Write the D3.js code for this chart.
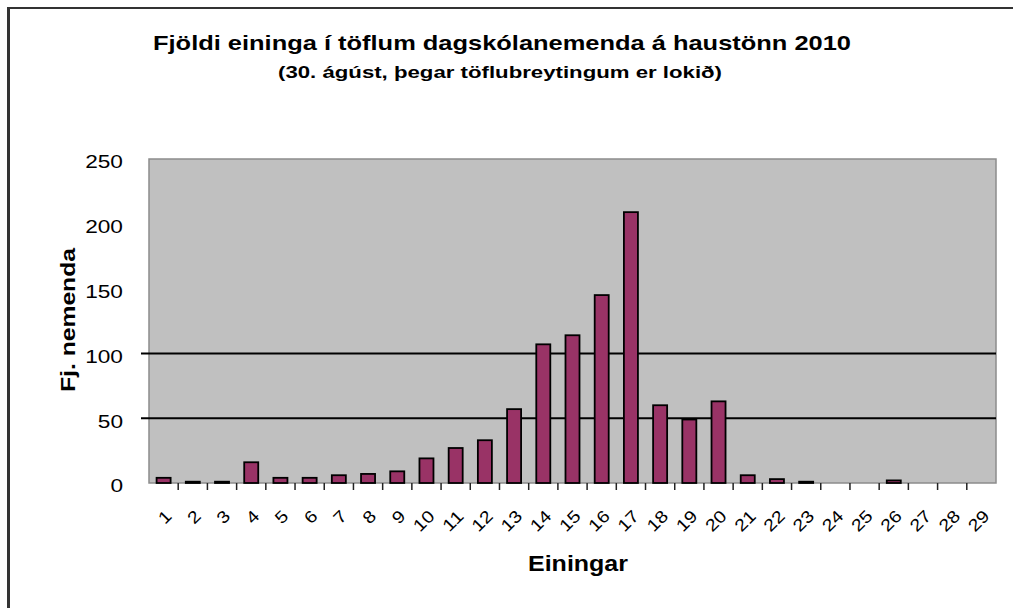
<!DOCTYPE html>
<html>
<head>
<meta charset="utf-8">
<script src="https://cdn.jsdelivr.net/npm/d3@7"></script>
<style>
  body { margin: 0; background: #ffffff; }
  text { font-family: 'Liberation Sans', Arial, sans-serif; fill: #000; }
</style>
</head>
<body>
<div id="chart"></div>
<script>
// fjöldi eininga -> fjöldi nemenda
let categories = ['1', '2', '3', '4', '5', '6', '7', '8', '9', '10', '11', '12', '13', '14', '15',
  '16', '17', '18', '19', '20', '21', '22', '23', '24', '25', '26', '27', '28', '29']
let students = [4, 1, 1, 16, 4, 4, 6, 7, 9, 19, 27, 33, 57, 107, 114,
  145, 209, 60, 49, 63, 6, 3, 1, 0, 0, 2, 0, 0, 0]
let yTicks = [0, 50, 100, 150, 200, 250]
let gridValues = [50, 100]

let width = 1013
let height = 608
let plot = { left: 149, right: 996, top: 159, bottom: 483 }

let svg = d3
  .select('#chart')
  .append('svg')
  .attr('width', width)
  .attr('height', height)

// outer frame (only left and top edges are inside the picture)
svg.append('line')
  .attr('x1', 8.5).attr('y1', 7.5).attr('x2', 8.5).attr('y2', height)
  .attr('stroke', '#333').attr('stroke-width', 3)
svg.append('line')
  .attr('x1', 7).attr('y1', 8).attr('x2', width).attr('y2', 8)
  .attr('stroke', '#333').attr('stroke-width', 2)

// titles
svg.append('text')
  .attr('x', 502).attr('y', 50)
  .attr('text-anchor', 'middle')
  .attr('font-size', 21)
  .attr('font-weight', 'bold')
  .attr('textLength', 698)
  .attr('lengthAdjust', 'spacingAndGlyphs')
  .text('Fjöldi eininga í töflum dagskólanemenda á haustönn 2010')

svg.append('text')
  .attr('x', 500).attr('y', 78)
  .attr('text-anchor', 'middle')
  .attr('font-size', 17)
  .attr('font-weight', 'bold')
  .attr('textLength', 444)
  .attr('lengthAdjust', 'spacingAndGlyphs')
  .text('(30. ágúst, þegar töflubreytingum er lokið)')

let x = d3.scaleBand()
  .domain(categories)
  .range([plot.left, plot.right])
  .paddingInner(0.52)
  .paddingOuter(0.26)

let y = d3.scaleLinear()
  .domain([0, 250])
  .range([plot.bottom, plot.top])

// plot area
svg.append('rect')
  .attr('x', plot.left).attr('y', plot.top)
  .attr('width', plot.right - plot.left)
  .attr('height', plot.bottom - plot.top)
  .attr('fill', '#c0c0c0')
  .attr('stroke', '#8c8c8c')
  .attr('stroke-width', 1.5)

// gridlines
svg.append('g')
  .selectAll('line')
  .data(gridValues)
  .enter()
  .append('line')
  .attr('x1', plot.left - 8)
  .attr('x2', plot.right)
  .attr('y1', d => y(d))
  .attr('y2', d => y(d))
  .attr('stroke', '#000')
  .attr('stroke-width', 2)

// y tick labels
svg.append('g')
  .selectAll('text')
  .data(yTicks)
  .enter()
  .append('text')
  .attr('x', 123)
  .attr('y', d => y(d) + 3)
  .attr('dy', '0.35em')
  .attr('text-anchor', 'end')
  .attr('font-size', 18)
  .attr('textLength', d => String(d).length * 12.6)
  .attr('lengthAdjust', 'spacingAndGlyphs')
  .text(d => d)

// x ticks at category boundaries
let step = x.step()
svg.append('g')
  .selectAll('line')
  .data(d3.range(1, categories.length))
  .enter()
  .append('line')
  .attr('x1', d => plot.left + d * step)
  .attr('x2', d => plot.left + d * step)
  .attr('y1', plot.bottom)
  .attr('y2', plot.bottom + 7)
  .attr('stroke', '#222')
  .attr('stroke-width', 1.5)

// bars
svg.append('g')
  .selectAll('rect')
  .data(categories.map((c, i) => ({ c: c, v: students[i] })).filter(d => d.v > 0))
  .enter()
  .append('rect')
  .attr('x', d => x(d.c))
  .attr('y', d => y(d.v))
  .attr('width', x.bandwidth())
  .attr('height', d => y(0) - y(d.v))
  .attr('fill', '#993366')
  .attr('stroke', '#000')
  .attr('stroke-width', 1.8)

// x tick labels, rotated
svg.append('g')
  .selectAll('text')
  .data(categories)
  .enter()
  .append('text')
  .attr('transform', d => 'translate(' + (x(d) + x.bandwidth() / 2 + 5) + ',' + 513 + ') rotate(-45)')
  .attr('text-anchor', 'end')
  .attr('dy', '0.35em')
  .attr('font-size', 17)
  .attr('textLength', d => d.length * 11)
  .attr('lengthAdjust', 'spacingAndGlyphs')
  .text(d => d)

// axis titles
svg.append('text')
  .attr('transform', 'translate(75,320) rotate(-90)')
  .attr('text-anchor', 'middle')
  .attr('font-size', 20)
  .attr('font-weight', 'bold')
  .attr('textLength', 144)
  .attr('lengthAdjust', 'spacingAndGlyphs')
  .text('Fj. nemenda')

svg.append('text')
  .attr('x', 578).attr('y', 571)
  .attr('text-anchor', 'middle')
  .attr('font-size', 22)
  .attr('font-weight', 'bold')
  .attr('textLength', 100)
  .attr('lengthAdjust', 'spacingAndGlyphs')
  .text('Einingar')
</script>
</body>
</html>
